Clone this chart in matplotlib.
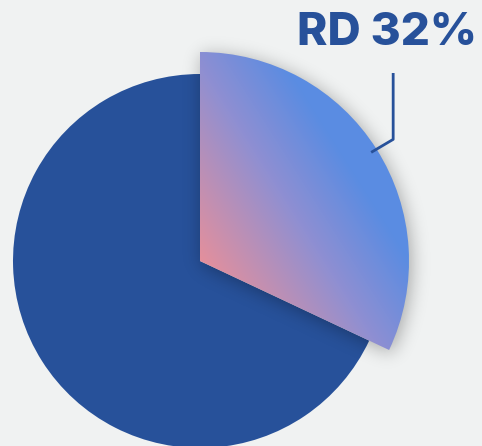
import numpy as np
import matplotlib
matplotlib.use("Agg")
import matplotlib.pyplot as plt
from matplotlib.colors import LinearSegmentedColormap

# data
labels = ["RD", "Other"]
shares = [32, 68]

BG = "#f0f2f2"
DARK = "#27519a"
W, H = 482, 446
cx, cy = 200, 446 - 261   # pie centre in pixel units (y up)
r_base, r_pop = 187, 209


def blur(a, sigma):
    k = np.arange(-3 * sigma, 3 * sigma + 1)
    g = np.exp(-k ** 2 / (2.0 * sigma ** 2))
    g /= g.sum()
    a = np.apply_along_axis(lambda m: np.convolve(m, g, mode="same"), 0, a)
    a = np.apply_along_axis(lambda m: np.convolve(m, g, mode="same"), 1, a)
    return a


fig = plt.figure(figsize=(W / 100, H / 100), dpi=100, facecolor=BG)
ax = fig.add_axes([0, 0, 1, 1])
ax.set_facecolor(BG)
ax.set_xlim(0, W)
ax.set_ylim(0, H)
ax.set_aspect("equal")
ax.axis("off")

# base pie: only the big slice is visible
base, _ = ax.pie(shares, radius=r_base, center=(cx, cy), startangle=90,
                 counterclock=False, colors=["none", DARK], frame=True)
base[0].set_visible(False)
for w in base:
    w.set_zorder(1)

# popped-out slice, bigger radius
pop, _ = ax.pie(shares, radius=r_pop, center=(cx, cy), startangle=90,
                counterclock=False, colors=["none", "none"], frame=True)
pop[1].set_visible(False)
rd = pop[0]
ax.set_xlim(0, W)
ax.set_ylim(0, H)
ax.axis("off")

# soft shadow under the popped slice
yy, xx = np.mgrid[0:H, 0:W]
px, py = xx + 0.5, (H - yy - 0.5)
ang = np.degrees(np.arctan2(py - cy + 3, px - cx - 2))
rr = np.hypot(px - cx - 2, py - cy + 3)
a1, a2 = rd.theta1, rd.theta2
inside = (rr <= r_pop) & (((ang - a1) % 360) <= (a2 - a1) % 360)
shade = blur(inside.astype(float), 9) * 0.32
rgba = np.zeros((H, W, 4))
rgba[..., 3] = shade
ax.imshow(rgba, extent=[0, W, 0, H], origin="upper", zorder=2, interpolation="bilinear")

# gradient fill of the popped slice
mid = np.radians((a1 + a2) / 2)
t = ((px - cx) * np.cos(mid) + (py - cy) * np.sin(mid)) / r_pop
cmap = LinearSegmentedColormap.from_list(
    "rd", [(0, "#e4909c"), (0.5, "#8f8fd2"), (0.85, "#5a8ce2"), (1, "#5a8ce2")])
img = ax.imshow(np.clip(t, 0, 1), cmap=cmap, vmin=0, vmax=1, extent=[0, W, 0, H],
                origin="upper", zorder=3, interpolation="bilinear")
rd.set_zorder(3)
img.set_clip_path(rd)

# leader line and label
lx = cx + r_pop * 0.97 * np.cos(mid)
ly = cy + r_pop * 0.97 * np.sin(mid)
ax.plot([lx, lx + 22, lx + 22], [ly, ly + 13, 446 - 73], color=DARK, lw=2,
        solid_capstyle="butt", zorder=4)
ax.text(lx + 16, 446 - 45, f"{labels[0]} {shares[0]}%", color=DARK,
        fontsize=33, fontweight=800, family="Inter", ha="center",
        va="baseline", zorder=5)

fig.savefig("out.png", dpi=100, facecolor=BG)
